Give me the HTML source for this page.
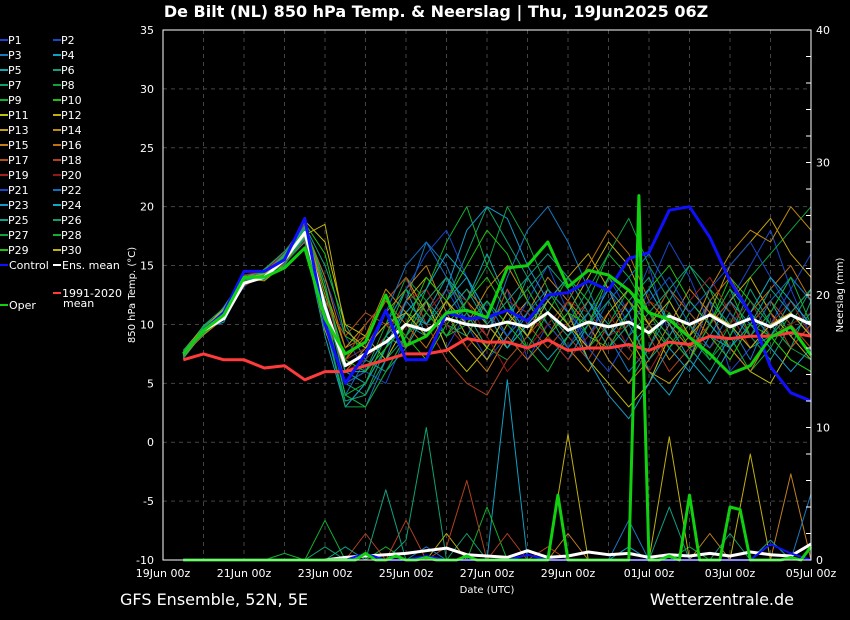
<!DOCTYPE html>
<html><head><meta charset="utf-8">
<style>
html,body{margin:0;padding:0;background:#000;}
svg{display:block;font-family:"DejaVu Sans","Liberation Sans",sans-serif;}
</style></head>
<body>
<svg id="chart" width="850" height="620" viewBox="0 0 850 620" xmlns="http://www.w3.org/2000/svg">
<rect width="850" height="620" fill="#000"/>
<text x="436" y="17" fill="#fff" font-size="16" font-weight="bold" text-anchor="middle">De Bilt  (NL)  850 hPa Temp. &amp; Neerslag | Thu, 19Jun2025 06Z</text>
<g id="grid"></g>
<g id="lines"></g>
<g id="axes"></g>
<g id="legend"></g>
<text transform="translate(135,295) rotate(-90)" fill="#fff" font-size="10" text-anchor="middle">850 hPa Temp. (°C)</text>
<text transform="translate(843,295) rotate(-90)" fill="#fff" font-size="10" text-anchor="middle">Neerslag (mm)</text>
<text x="487" y="593" fill="#fff" font-size="10" text-anchor="middle">Date (UTC)</text>
<text x="120" y="605" fill="#fff" font-size="16">GFS Ensemble, 52N, 5E</text>
<text x="794" y="605" fill="#fff" font-size="16" text-anchor="end">Wetterzentrale.de</text>
</svg>
<script>
const xTickLabels=["19Jun 00z","21Jun 00z","23Jun 00z","25Jun 00z","27Jun 00z","29Jun 00z","01Jul 00z","03Jul 00z","05Jul 00z"];
const yTicks=[35,30,25,20,15,10,5,0,-5,-10];
const y2Ticks=[40,30,20,10,0];
const control=[7.5,9.5,11,14.5,14.5,15.5,19,10,5,7.5,11.2,7,7,11,10.5,10.6,11.2,10.3,12.5,12.7,13.7,12.9,15.6,16.1,19.7,20,17.4,13.7,10.9,6.4,4.2,3.5];
const oper=[7.5,9.5,10.8,14,14,14.8,16.5,10.5,7.5,8.5,12.5,8.2,9,11,11.2,10.6,14.8,15,17,13.2,14.6,14.2,12.9,11,10.4,8.9,7.5,5.8,6.5,8.9,9.8,7.4];
const ensMean=[7.5,9.5,10.5,13.5,14,15.5,17.8,11.5,6.5,7.5,8.5,10,9.5,10.5,10,9.8,10.2,9.8,11,9.5,10.2,9.8,10.2,9.3,10.7,10,10.8,9.8,10.5,9.8,10.8,10];
const climate=[7,7.5,7,7,6.3,6.5,5.3,6,6,6.5,7,7.5,7.5,7.8,8.8,8.5,8.5,8,8.7,7.8,8,8,8.3,7.8,8.5,8.3,9,8.8,9,9,9.3,9];
const members=[
[7.3,9.2,11,13.8,14.2,15.8,17.2,12,6,5,8,10,12,8,11,9,13,7,10,12,8,14,11,15,9,7,12,6,8,10,13,9],
[7.6,9.8,10.8,13.2,14.5,16,18,14,9,6,5,9,11,13,10,7,9,12,15,11,8,6,9,13,17,14,10,12,15,18,13,16],
[7.4,9.4,11.5,14,13.8,15,17.6,11,4,3,7,12,17,15,11,9,14,18,20,17,13,9,6,8,11,9,12,10,7,11,14,12],
[7.2,9.6,10.2,13.6,14.4,15.6,18.2,13,7,8,10,13,9,12,14,10,8,11,9,7,10,13,11,6,4,7,10,13,11,9,12,10],
[7.5,9.1,11.2,13.4,14.1,15.2,17,9,3,5,9,8,11,14,12,16,12,9,7,9,12,10,8,10,13,11,9,8,10,12,9,11],
[7.7,9.7,10.9,13.9,14.6,16.2,18.4,15,10,7,6,8,12,10,9,12,10,14,16,14,11,9,12,14,10,8,6,9,13,10,8,12],
[7.1,9.3,11.3,13.5,13.9,15.4,17.8,10,3.5,4,8,11,10,12,16,20,17,14,11,8,10,7,5,8,12,15,13,11,9,7,10,13],
[7.4,9.5,10.7,14.2,14.3,15.9,18,12,5,6,10,14,12,9,11,8,7,9,12,10,13,16,19,15,12,9,7,10,14,16,18,20],
[7.6,9.9,11.1,13.7,14,15.3,17.3,11,4,3,6,9,13,17,20,15,12,8,6,9,11,14,12,10,8,11,13,9,6,8,11,9],
[7.3,9.2,10.6,13.3,14.7,16.1,18.6,16,9,8,11,9,7,10,12,14,11,13,10,12,9,8,11,13,15,12,10,14,12,9,7,6],
[7.5,9.6,11.4,14.1,14.2,15.5,18.8,17,10,9,7,10,12,8,6,8,11,9,13,11,7,5,3,5,9,12,10,8,6,5,8,10],
[7.2,9.4,10.8,13.6,14.5,15.7,17.5,9.5,5,6,9,12,14,12,9,7,10,12,9,11,14,17,15,11,9,7,10,12,14,11,9,7],
[7.8,9.8,11,13.9,13.7,15.1,17.9,13,8,10,12,14,11,9,12,10,8,10,12,14,16,13,9,6,5,7,11,15,17,19,16,14],
[7.4,9.1,10.5,13.4,14.3,16,18.1,12.5,7,9,13,11,9,12,10,13,15,12,10,8,6,9,12,10,7,9,13,16,18,17,20,18],
[7.6,9.7,11.2,14,14.6,15.8,17.4,11,6,8,11,13,15,11,8,6,9,11,14,12,10,7,5,7,10,13,11,8,6,9,11,13],
[7.3,9.3,10.9,13.5,14,15.4,18.3,14,8,9,12,10,8,11,13,11,9,7,9,12,15,18,16,12,10,8,12,14,11,13,15,12],
[7.5,9.5,11.1,13.8,14.4,15.9,17.7,12,9,11,10,8,12,14,11,9,13,10,8,10,12,9,7,10,13,11,9,7,10,12,10,8],
[7.2,9.8,10.6,13.3,14.1,15.2,17.1,10,7,10,12,14,10,7,5,4,7,9,11,9,7,10,12,9,6,8,10,12,9,11,8,10],
[7.7,9.4,11.3,14.2,14.5,16.1,18.5,13,6,7,9,12,13,10,8,10,12,11,9,7,9,11,8,6,9,12,14,11,8,10,12,9],
[7.4,9.6,10.7,13.7,13.9,15.6,17.6,11.5,7,8,10,9,11,13,12,9,6,8,10,12,11,9,10,12,11,9,8,10,12,9,10,11],
[7.5,9.2,11,13.9,14.3,15.7,18,12,5,6,9,13,16,18,14,11,9,12,10,8,11,13,10,12,14,11,13,15,17,14,11,9],
[7.3,9.7,10.8,13.4,14.6,15.3,17.8,11,4,7,11,15,17,14,10,12,9,11,13,11,9,12,14,16,13,10,8,11,9,12,14,12],
[7.6,9.5,11.2,14.1,14.2,16,18.2,10,3,5,8,12,10,13,18,20,19,15,12,10,7,4,2,5,8,6,9,12,10,8,6,8],
[7.4,9.3,10.9,13.6,14,15.5,17.4,12,6,6,9,11,13,16,14,11,8,10,12,14,12,9,11,13,10,7,5,8,11,14,12,10],
[7.2,9.9,11.4,13.8,14.4,15.8,18.4,13.5,6,5,8,10,9,11,13,10,12,14,11,9,11,8,10,7,9,12,10,8,10,13,11,9],
[7.8,9.6,10.6,13.5,14.7,16.2,17.9,12,5,4,7,9,12,14,11,8,11,13,15,13,10,12,9,11,13,15,12,10,8,9,11,13],
[7.5,9.4,11.1,14,14.1,15.1,17.3,10.5,3,3,6,9,11,9,12,15,20,17,13,10,8,10,13,11,8,10,7,9,12,10,8,7],
[7.3,9.8,11,13.7,14.5,15.7,18.1,11.5,4,5,9,13,11,9,10,12,10,8,11,14,12,16,14,11,9,7,10,13,9,11,14,10],
[7.6,9.2,10.7,13.5,14.2,15.9,18.7,13,7,6,8,10,14,12,15,18,16,12,9,11,10,14,12,9,11,8,9,7,10,9,7,6],
[7.4,9.6,11.3,13.9,14.3,15.4,17.6,18.5,9.5,8,10,11,9,12,10,8,11,9,12,10,8,11,13,10,12,9,11,10,8,10,11,9]
];
const memberColors=["#2040d0","#1848c8","#1878c0","#10a0c0","#10a8b0","#10a080","#10a070","#10a040","#10b030","#20c010","#c0c010","#c0b010","#c0a010","#c08a10","#c08020","#c07010","#b05018","#b04020","#a02020","#901818","#1848c8","#1070c0","#1898c8","#10a8c0","#10a090","#10a070","#10a040","#10b030","#20c010","#c0b010"];
const operPrecip=[0,0,0,0,0,0,0,0,0,0,0,0,0,0,0,0,0,0,0.5,0,0,0.3,0,0,0.2,0,0,0,0.3,0,0,0,0,0,0,0,0,4.9,0,0,0,0,0,0,0,27.5,0,0,0.3,0,4.9,0,0,0,4,3.8,0,0,0,0,0.2,0,1];
const meanPrecip=[0,0,0,0,0,0,0,0,0.2,0.3,0.4,0.5,0.7,0.9,0.4,0.3,0.2,0.7,0.2,0.3,0.6,0.4,0.5,0.2,0.4,0.3,0.5,0.3,0.6,0.4,0.3,1.2];
const controlPrecip=[0,0,0,0,0,0,0,0,0,0.5,0,0,0.3,0,0,0,0,0.4,0,0,0,0,0,0,0,0,0,0,0,1.2,0.5,0];
const memberPrecip=[
[0,0,0,0,0,0,0,1,0,0,0,1.5,10,0,2,0,0,0,0,0,0,0,0,0,0,0,0,2,0,0,0,0],
[0,0,0,0,0,0,0,0,0,0,0,0,0,0,0,0,13.6,0,0,0,0,0,1,0,0,0,0,0,0,0,0,0],
[0,0,0,0,0,0.5,0,3,0,0,1,0,0,0,0,4,0,0,0,0,0,0,0,0,0,1,0,0,0,0,0,0],
[0,0,0,0,0,0,0,0,0,0,0,0,0,2,0,0,0,0,0,9.5,0,0,0,0,9.3,0,0,0,8,0,0,0],
[0,0,0,0,0,0,0,0,0,0,0,0,0,0,0,0,0,0,0,2,0,0,0,0,0,0,2,0,0,0,6.5,0],
[0,0,0,0,0,0,0,0,0,2,0,3,0,1,6,0,2,0,1,0,0,0,0,0,0,0,0,0,0,0,0,0],
[0,0,0,0,0,0,0,0,1,0,5.3,0,0,0,0,0,0,0,0,0,0,0,0,0,4,0,0,0,0,1.5,0,0],
[0,0,0,0,0,0,0,0,0,0,0,0,1,0,0,0,0,0,0,0,0,0,3,0,0,0,0,0,0,0,0,5]
];
const memberPrecipColors=["#10a070","#10a0c0","#10b030","#c0b010","#c08020","#b04020","#10a080","#1878c0"];

const NS="http://www.w3.org/2000/svg";
const X0=163,X1=811,Y0=30,Y1=560;
const xs=d=>X0+(X1-X0)*d/16;
const ys=t=>Y1-(t+10)*(Y1-Y0)/45;
const yp=mm=>Y1-mm*(Y1-Y0)/40;
function mk(tag,attrs,parent){const e=document.createElementNS(NS,tag);for(const k in attrs)e.setAttribute(k,attrs[k]);parent.appendChild(e);return e;}
const grid=document.getElementById('grid'),lines=document.getElementById('lines'),axes=document.getElementById('axes'),leg=document.getElementById('legend');

for(let d=1;d<16;d++){const l=mk('line',{x1:xs(d),x2:xs(d),y1:Y0,y2:Y1,stroke:'#444','stroke-dasharray':'4,4','stroke-width':1},grid);

}
yTicks.forEach(t=>{if(t>-10&&t<35){const l=mk('line',{x1:X0,x2:X1,y1:ys(t),y2:ys(t),stroke:'#444','stroke-dasharray':'4,4','stroke-width':1},grid);

}});

function poly(vals,start,step,fn,color,w,name){
  const pts=vals.map((v,i)=>xs(start+i*step).toFixed(1)+','+fn(v).toFixed(1)).join(' ');
  const p=mk('polyline',{points:pts,fill:'none',stroke:color,'stroke-width':w,'stroke-linejoin':'round'},lines);
  
  
}
members.forEach((m,i)=>poly(m,0.5,0.5,ys,memberColors[i],1,'member-line'));
memberPrecip.forEach((m,i)=>poly(m,0.5,0.5,yp,memberPrecipColors[i],1,'member-precip-line'));
poly(climate,0.5,0.5,ys,'#ff3b3b',3,'climate-mean-line');
poly(ensMean,0.5,0.5,ys,'#ffffff',3,'ens-mean-line');
poly(control,0.5,0.5,ys,'#1010ff',3,'control-line');
poly(oper,0.5,0.5,ys,'#10d010',3,'oper-line');
poly(meanPrecip,0.5,0.5,yp,'#ffffff',3,'ens-mean-precip-line');
poly(controlPrecip,0.5,0.5,yp,'#1010ff',2,'control-precip-line');
poly(operPrecip,0.5,0.25,yp,'#10d010',3,'oper-precip-line');

const fr=mk('rect',{x:X0,y:Y0,width:X1-X0,height:Y1-Y0,fill:'none',stroke:'#fff','stroke-width':1},axes);


yTicks.forEach(t=>{const tx=mk('text',{x:154,y:ys(t)+4,fill:'#fff','font-size':11,'text-anchor':'end'},axes);tx.textContent=t;

});
y2Ticks.forEach(t=>{const tx=mk('text',{x:816,y:yp(t)+4,fill:'#fff','font-size':11},axes);tx.textContent=t;

});
for(let m=2;m<40;m+=2){const l=mk('line',{x1:X1-5,x2:X1,y1:yp(m),y2:yp(m),stroke:'#fff'},axes);

}
xTickLabels.forEach((s,i)=>{const tx=mk('text',{x:xs(i*2),y:577,fill:'#fff','font-size':11,'text-anchor':'middle'},axes);tx.textContent=s;

});

for(let i=0;i<30;i++){
  const col=i%2,row=Math.floor(i/2);
  const x=col?53:0,y=40+row*15;
  const l=mk('line',{x1:x,x2:x+8,y1:y,y2:y,stroke:memberColors[i],'stroke-width':2},leg);
  
  
  const t=mk('text',{x:x+8,y:y+4,fill:'#fff','font-size':11},leg);t.textContent='P'+(i+1);
  
  
}
const extra=[[0,265,'#1010ff','Control'],[53,265,'#ffffff','Ens. mean'],[53,293,'#ff3b3b','1991-2020'],[0,305,'#10d010','Oper']];
extra.forEach(e=>{const l=mk('line',{x1:e[0],x2:e[0]+8,y1:e[1],y2:e[1],stroke:e[2],'stroke-width':2},leg);


const t=mk('text',{x:e[0]+9,y:e[1]+4,fill:'#fff','font-size':11},leg);t.textContent=e[3];

});
const mt=mk('text',{x:63,y:307,fill:'#fff','font-size':11},leg);mt.textContent='mean';


</script>
</body></html>
